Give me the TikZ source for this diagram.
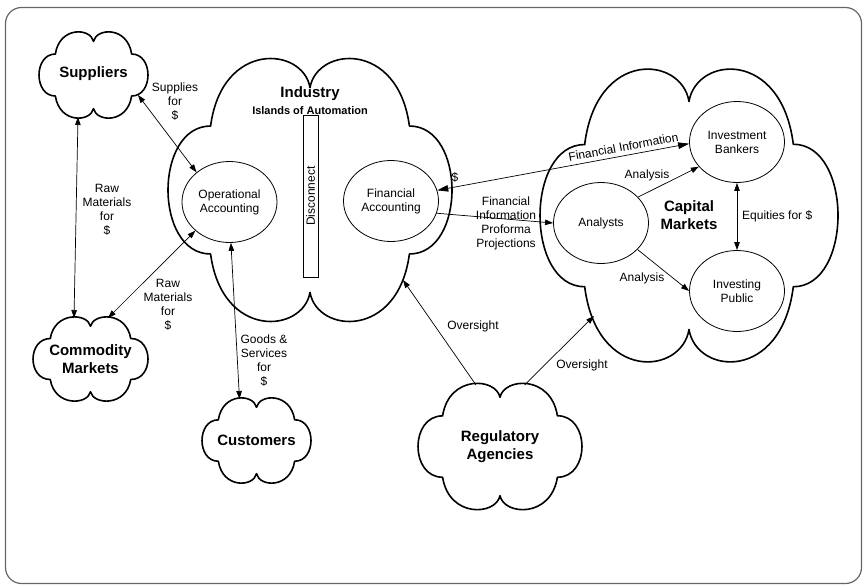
\documentclass[tikz,border=0pt]{standalone}
\usepackage{fontspec}
\setmainfont{Liberation Sans}
\usetikzlibrary{arrows.meta,shapes.geometric}
\tikzset{
  frame/.style={line width=1.2pt, draw=black!60, rounded corners=16pt},
  cloudline/.style={line width=1.6pt, line join=round},
  ellnode/.style={ellipse, draw, line width=0.8pt, minimum width=95pt, minimum height=81pt, inner sep=0pt, align=center, font=\fontsize{12}{14}\selectfont},
  lbl/.style={align=center, font=\fontsize{12}{14}\selectfont, inner sep=0pt},
  ttl/.style={align=center, font=\fontsize{15}{18}\selectfont\bfseries, inner sep=0pt},
  subttl/.style={align=center, font=\fontsize{11}{13}\selectfont\bfseries, inner sep=0pt},
  conn/.style={line width=0.7pt},
  mytip/.tip={Triangle[length=8pt,width=5.5pt]},
  bigtip/.tip={Triangle[length=11pt,width=6.5pt]},
}
\newcommand{\cloudat}[5]{%
  \coordinate (#1) at (#2,#3);
  \draw[cloudline, shift={(#2,#3)}, xscale=#4, yscale=-#5]
    (-0.7,0.5) .. controls (-0.62,1.17) and (-0.05,1.12) .. (0,0.8)
    .. controls (0.05,1.12) and (0.62,1.17) .. (0.7,0.5)
    .. controls (1.1,0.5) and (1.1,-0.5) .. (0.7,-0.5)
    .. controls (0.62,-1.17) and (0.05,-1.12) .. (0,-0.8)
    .. controls (-0.05,-1.12) and (-0.62,-1.17) .. (-0.7,-0.5)
    .. controls (-1.1,-0.5) and (-1.1,0.5) .. cycle;
}
\begin{document}
\begin{tikzpicture}[x=1pt,y=-1pt]
\useasboundingbox (0,0) rectangle (865,586);
\draw[frame] (5.5,7.5) rectangle (861.5,583.5);

% clouds
\cloudat{sup}{93.5}{75}{54.5}{42}
\cloudat{ind}{310}{190}{142}{128}
\cloudat{cap}{689}{215.5}{149}{142.5}
\cloudat{com}{90.5}{359}{57.5}{41}
\cloudat{cus}{256.5}{440.5}{54.5}{41.5}
\cloudat{reg}{500}{446.5}{82}{61.5}

% cloud titles
\node[ttl] (supT) at (93.5,74) {Suppliers};
\node[ttl] (indT) at (310,94) {Industry};
\node[ttl] (capT) at (689,215) {Capital\\Markets};
\node[ttl] (comT) at (90.5,359) {Commodity\\Markets};
\node[ttl] (cusT) at (256.5,440) {Customers};
\node[ttl] (regT) at (500,447) {Regulatory\\Agencies};

% disconnect bar
\node[draw, line width=0.8pt, rotate=90, minimum width=162pt, minimum height=15pt, inner sep=0pt, font=\fontsize{12}{14}\selectfont] (disc) at (310.5,196) {Disconnect};
\node[subttl] (indS) at (310,111) {Islands of Automation};

% ellipses
\node[ellnode] (oa) at (229.5,202) {Operational\\Accounting};
\node[ellnode] (fa) at (391,201) {Financial\\Accounting};
\node[ellnode] (an) at (601,223) {Analysts};
\node[ellnode] (ib) at (737,142) {Investment\\Bankers};
\node[ellnode] (ip) at (737,291) {Investing\\Public};

% connector end points on clouds
\coordinate (supR) at (138,95);
\coordinate (supB) at (78,117);
\coordinate (comA) at (74,318);
\coordinate (comB) at (108,318);
\coordinate (cusA) at (239.5,399);
\coordinate (indB) at (403,280);
\coordinate (capB) at (594,316);
\coordinate (regA) at (476,385);
\coordinate (regB) at (524.5,385);

% connectors
\draw[conn, mytip-mytip] (supR) -- (oa.138);
\draw[conn, mytip-mytip] (supB) -- (comA);
\draw[conn, mytip-mytip] (oa.220) -- (comB);
\draw[conn, mytip-mytip] (oa.272) -- (cusA);
\draw[conn, bigtip-bigtip] (fa.13) -- node[pos=0.745, sloped, above=4pt, lbl] (fiL) {Financial Information} (ib.182);
\draw[conn, -mytip] (fa.345) -- (an.west);
\draw[conn, -mytip] (an.35) -- (ib.213);
\draw[conn, -mytip] (an.324) -- (ip.180);
\draw[conn, mytip-mytip] (ib.south) -- (ip.north);
\draw[conn, -mytip] (regA) -- (indB);
\draw[conn, -mytip] (regB) -- (capB);

% labels
\node[lbl] (l1) at (175,101.5) {Supplies\\for\\\$};
\node[lbl] (l2) at (107,209.5) {Raw\\Materials\\for\\\$};
\node[lbl] (l3) at (168,304.5) {Raw\\Materials\\for\\\$};
\node[lbl] (l4) at (264,360.5) {Goods \&\\Services\\for\\\$};
\node[lbl] (l5) at (455,177) {\$};
\node[lbl] (l6) at (506,223) {Financial\\Information\\Proforma\\Projections};
\node[lbl] (l7) at (647,175) {Analysis};
\node[lbl] (l8) at (642,278) {Analysis};
\node[lbl, anchor=west] (l9) at (742,216) {Equities for \$};
\node[lbl] (l10) at (473,326) {Oversight};
\node[lbl] (l11) at (582,365) {Oversight};
\end{tikzpicture}
\end{document}
